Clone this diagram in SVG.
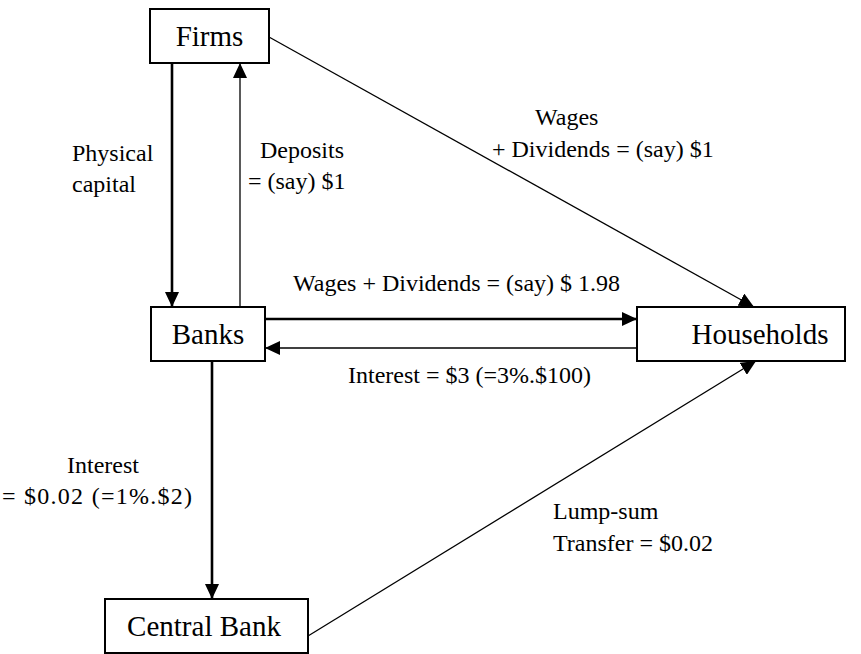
<svg xmlns="http://www.w3.org/2000/svg" width="861" height="654" viewBox="0 0 861 654">
<defs>
<style>
.box{fill:#fff;stroke:#000;stroke-width:2}
.node{font-size:29px;fill:#000}
.lbl{font-size:24px;fill:#000}
.thick{stroke:#000;stroke-width:2.6;fill:none}
.thin{stroke:#000;stroke-width:1.3;fill:none}
</style>
<marker id="ah" markerUnits="userSpaceOnUse" markerWidth="15" markerHeight="14" refX="15" refY="7" orient="auto">
<path d="M0,0 L15,7 L0,14 z" fill="#000"/>
</marker>
</defs>
<rect width="861" height="654" fill="#fff"/>
<g id="connectors">
<line class="thick" x1="172" y1="63" x2="172" y2="307" marker-end="url(#ah)"/>
<line class="thin" x1="240" y1="307" x2="240" y2="63" marker-end="url(#ah)"/>
<line class="thin" x1="269" y1="37" x2="754" y2="307" marker-end="url(#ah)"/>
<line class="thick" x1="265" y1="319" x2="637" y2="319" marker-end="url(#ah)"/>
<line class="thin" x1="637" y1="348" x2="265" y2="348" marker-end="url(#ah)"/>
<line class="thick" x1="212" y1="361" x2="212" y2="599" marker-end="url(#ah)"/>
<line class="thin" x1="308" y1="636" x2="756" y2="361" marker-end="url(#ah)"/>
</g>
<g id="labels" font-family="Liberation Serif, serif">
<text class="lbl" x="72" y="161">Physical</text>
<text class="lbl" x="72" y="192">capital</text>
<text class="lbl" x="260" y="158">Deposits</text>
<text class="lbl" x="248" y="189">= (say) $1</text>
<text class="lbl" x="535" y="125">Wages</text>
<text class="lbl" x="492" y="157">+ Dividends = (say) $1</text>
<text class="lbl" x="293" y="291">Wages + Dividends = (say) $ 1.98</text>
<text class="lbl" x="348" y="383">Interest = $3 (=3%.$100)</text>
<text class="lbl" x="67" y="473">Interest</text>
<text class="lbl" x="2" y="504" textLength="190" lengthAdjust="spacing">= $0.02 (=1%.$2)</text>
<text class="lbl" x="553" y="519">Lump-sum</text>
<text class="lbl" x="553" y="551">Transfer = $0.02</text>
</g>
<g id="firms" font-family="Liberation Serif, serif">
<rect class="box" x="150" y="9" width="119" height="54"/>
<text class="node" x="209.5" y="46" text-anchor="middle">Firms</text>
</g>
<g id="banks" font-family="Liberation Serif, serif">
<rect class="box" x="151" y="307" width="114" height="54"/>
<text class="node" x="208" y="344" text-anchor="middle">Banks</text>
</g>
<g id="households" font-family="Liberation Serif, serif">
<rect class="box" x="637" y="307" width="208" height="54"/>
<text class="node" x="760" y="344" text-anchor="middle">Households</text>
</g>
<g id="central-bank" font-family="Liberation Serif, serif">
<rect class="box" x="105" y="599" width="203" height="54"/>
<text class="node" x="204" y="636" text-anchor="middle">Central Bank</text>
</g>
</svg>
